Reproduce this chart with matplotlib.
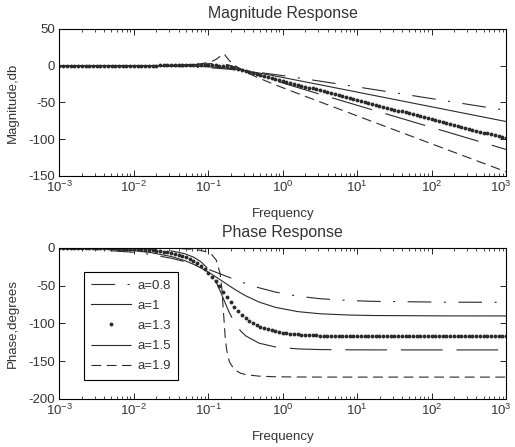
"""
Fractional-order low-pass response: magnitude and phase for several orders a.
Writes out.png (515 x 447).
"""

import numpy as np
import matplotlib
matplotlib.use("Agg")
import matplotlib.pyplot as plt
from matplotlib.transforms import ScaledTranslation

# ── Data ──────────────────────────────────────────────────────────────────────
ORDERS = ["a=0.8", "a=1", "a=1.3", "a=1.5", "a=1.9"]

# frequency points for the line curves
FREQ_LINES = [0.001, 0.0032, 0.01, 0.016, 0.032, 0.048, 0.064, 0.08, 0.096,
              0.112, 0.128, 0.144, 0.152, 0.16, 0.168, 0.176, 0.192, 0.224,
              0.272, 0.32, 0.48, 0.8, 1.6, 3.2, 8, 16, 160, 1000]

MAG_A08 = [-0.05, -0.12, -0.33, -0.50, -0.96, -1.40, -1.84, -2.27, -2.68, -3.08,
           -3.46, -3.83, -4.00, -4.18, -4.35, -4.52, -4.85, -5.47, -6.32, -7.08,
           -9.18, -12.14, -16.50, -21.09, -27.31, -32.07, -48.01, -60.75]
MAG_A10 = [0.0, 0.0, -0.02, -0.04, -0.17, -0.37, -0.65, -0.97, -1.34, -1.73,
           -2.15, -2.58, -2.79, -3.01, -3.23, -3.44, -3.87, -4.71, -5.90, -6.99,
           -10.0, -14.15, -20.04, -26.03, -33.98, -40.0, -60.0, -75.92]
MAG_A15 = [0.0, 0.02, 0.10, 0.19, 0.55, 1.00, 1.51, 2.04, 2.53, 2.89,
           3.01, 2.83, 2.61, 2.32, 1.97, 1.55, 0.61, -1.47, -4.44, -6.99,
           -13.15, -20.42, -29.81, -38.96, -50.95, -59.99, -90.0, -113.88]
MAG_A19 = [0.0, 0.01, 0.04, 0.11, 0.41, 0.92, 1.65, 2.66, 4.03, 5.94,
           8.68, 12.76, 15.09, 16.09, 14.38, 11.62, 6.86, 0.72, -4.91, -8.78,
           -17.0, -26.15, -37.89, -49.41, -64.56, -76.0, -114.0, -144.24]

PH_A08 = [-0.94, -2.35, -5.72, -8.18, -13.60, -17.99, -21.70, -24.89, -27.67, -30.12,
          -32.30, -34.25, -35.15, -36.0, -36.82, -37.59, -39.03, -41.55, -44.64, -47.12,
          -52.71, -58.41, -63.83, -67.19, -69.65, -70.64, -71.79, -71.95]
PH_A10 = [-0.36, -1.15, -3.58, -5.71, -11.31, -16.70, -21.80, -26.57, -30.96, -34.99,
          -38.66, -41.99, -43.53, -45.0, -46.40, -47.73, -50.19, -54.46, -59.53, -63.43,
          -71.57, -78.69, -84.29, -87.14, -88.85, -89.43, -89.94, -89.99]
PH_A15 = [-0.02, -0.12, -0.64, -1.31, -3.86, -7.49, -12.29, -18.43, -26.09, -35.25,
          -45.67, -56.72, -62.19, -67.5, -72.55, -77.28, -85.66, -98.33, -109.9, -116.57,
          -126.05, -131.14, -133.69, -134.54, -134.88, -134.96, -135.0, -135.0]
PH_A19 = [0.0, -0.01, -0.05, -0.11, -0.44, -1.01, -1.90, -3.26, -5.41, -9.05,
          -16.15, -33.74, -53.76, -85.5, -115.97, -134.44, -150.86, -161.23, -165.9, -167.74,
          -169.74, -170.56, -170.89, -170.97, -171.0, -171.0, -171.0, -171.0]

# a=1.3 is drawn as dots, 20 samples per decade from 1e-3 to 1e3
FREQ_DOTS = np.logspace(-3, 3, 121)
MAG_A13 = [
    0.01, 0.01, 0.01, 0.01, 0.01, 0.01, 0.01, 0.02, 0.02, 0.02,
    0.02, 0.03, 0.03, 0.04, 0.04, 0.05, 0.06, 0.07, 0.08, 0.09,
    0.11, 0.12, 0.14, 0.16, 0.19, 0.22, 0.25, 0.29, 0.33, 0.38,
    0.44, 0.50, 0.57, 0.64, 0.72, 0.80, 0.87, 0.94, 0.99, 1.00,
    0.96, 0.84, 0.60, 0.22, -0.33, -1.05, -1.95, -2.99, -4.15, -5.39,
    -6.70, -8.04, -9.41, -10.78, -12.16, -13.54, -14.92, -16.28, -17.65, -19.00,
    -20.35, -21.70, -23.04, -24.37, -25.70, -27.03, -28.35, -29.67, -30.99, -32.30,
    -33.61, -34.92, -36.23, -37.54, -38.85, -40.16, -41.46, -42.76, -44.07, -45.37,
    -46.68, -47.98, -49.28, -50.58, -51.88, -53.18, -54.48, -55.78, -57.08, -58.38,
    -59.69, -60.99, -62.29, -63.59, -64.89, -66.19, -67.49, -68.79, -70.09, -71.39,
    -72.69, -73.99, -75.29, -76.59, -77.89, -79.19, -80.49, -81.79, -83.09, -84.39,
    -85.69, -86.99, -88.29, -89.59, -90.89, -92.19, -93.49, -94.79, -96.09, -97.39,
    -98.69,
]
PH_A13 = [
    -0.07, -0.08, -0.09, -0.11, -0.13, -0.15, -0.17, -0.20, -0.23, -0.27,
    -0.31, -0.36, -0.42, -0.49, -0.57, -0.66, -0.77, -0.89, -1.04, -1.21,
    -1.41, -1.64, -1.91, -2.22, -2.58, -3.01, -3.51, -4.10, -4.79, -5.59,
    -6.54, -7.66, -8.97, -10.52, -12.36, -14.53, -17.09, -20.12, -23.68, -27.86,
    -32.70, -38.21, -44.35, -51.00, -57.91, -64.88, -71.59, -77.82, -83.44, -88.39,
    -92.67, -96.33, -99.44, -102.08, -104.31, -106.20, -107.79, -109.15, -110.29, -111.27,
    -112.09, -112.80, -113.40, -113.91, -114.35, -114.73, -115.05, -115.32, -115.56, -115.76,
    -115.93, -116.08, -116.21, -116.32, -116.42, -116.50, -116.57, -116.63, -116.68, -116.73,
    -116.76, -116.80, -116.82, -116.85, -116.87, -116.89, -116.90, -116.92, -116.93, -116.94,
    -116.95, -116.96, -116.96, -116.97, -116.97, -116.98, -116.98, -116.98, -116.99, -116.99,
    -117.0, -117.0, -117.0, -117.0, -117.0, -117.0, -117.0, -117.0, -117.0, -117.0,
    -117.0, -117.0, -117.0, -117.0, -117.0, -117.0, -117.0, -117.0, -117.0, -117.0,
    -117.0,
]

MAG_TICKS = [-150, -100, -50, 0, 50]
PH_TICKS = [-200, -150, -100, -50, 0]

# ── Style ─────────────────────────────────────────────────────────────────────
plt.rcParams["font.family"] = ["Liberation Sans", "DejaVu Sans"]
plt.rcParams["font.size"] = 9.5
plt.rcParams["mathtext.fontset"] = "custom"
plt.rcParams["mathtext.rm"] = "Liberation Sans"
plt.rcParams["axes.unicode_minus"] = False   # MATLAB uses a plain hyphen
plt.rcParams["lines.scale_dashes"] = False

INK = "#2a2a2a"
TXT = "#333333"
STYLES = {
    "a=0.8": (0, (17, 9, 1.5, 9)),
    "a=1":   "-",
    "a=1.5": (0, (30, 10)),
    "a=1.9": (0, (7, 4)),
}


def style_axes(fig, ax, yticks):
    ax.set_xscale("log")
    ax.set_xlim(1e-3, 1e3)
    ax.set_ylim(yticks[0], yticks[-1])
    ax.set_yticks(yticks)
    ax.set_xticks([1e-3, 1e-2, 1e-1, 1e0, 1e1, 1e2, 1e3])
    ax.tick_params(which="both", direction="in", top=True, right=True,
                   colors="black", labelcolor=TXT)
    ax.tick_params(which="major", length=4, width=0.6, pad=3)
    ax.tick_params(which="minor", length=2, width=0.5)
    for spine in ax.spines.values():
        spine.set_linewidth(0.8)
        spine.set_edgecolor("black")
    # last decade label sits on the figure edge; nudge it inside a little
    last = ax.get_xticklabels()[-1]
    last.set_transform(last.get_transform()
                       + ScaledTranslation(-4 / 72, 0, fig.dpi_scale_trans))


def draw(ax, lines, dots):
    ax.plot(FREQ_LINES, lines[0], color=INK, lw=0.8, linestyle=STYLES["a=0.8"], label=ORDERS[0])
    ax.plot(FREQ_LINES, lines[1], color=INK, lw=0.8, linestyle=STYLES["a=1"], label=ORDERS[1])
    ax.plot(FREQ_DOTS, dots, color=INK, linestyle="none", marker="o",
            markersize=2.8, markeredgewidth=0, label=ORDERS[2])
    ax.plot(FREQ_LINES, lines[2], color=INK, lw=0.8, linestyle=STYLES["a=1.5"], label=ORDERS[3])
    ax.plot(FREQ_LINES, lines[3], color=INK, lw=0.8, linestyle=STYLES["a=1.9"], label=ORDERS[4])


fig = plt.figure(figsize=(5.15, 4.47), dpi=100)
fig.patch.set_facecolor("white")

ax1 = fig.add_axes([0.1155, 0.6063, 0.867, 0.329])
ax2 = fig.add_axes([0.1155, 0.1074, 0.867, 0.3378])

# ── Magnitude ─────────────────────────────────────────────────────────────────
draw(ax1, [MAG_A08, MAG_A10, MAG_A15, MAG_A19], MAG_A13)
style_axes(fig, ax1, MAG_TICKS)
ax1.set_title("Magnitude Response", pad=8, color=TXT)
ax1.set_xlabel("Frequency", color=TXT, va="top")
ax1.set_ylabel("Magnitude,db", color=TXT)
ax1.xaxis.set_label_coords(0.5, -0.215)
ax1.yaxis.set_label_coords(-0.092, 0.5)

# ── Phase ─────────────────────────────────────────────────────────────────────
draw(ax2, [PH_A08, PH_A10, PH_A15, PH_A19], PH_A13)
style_axes(fig, ax2, PH_TICKS)
ax2.set_title("Phase Response", pad=8, color=TXT)
ax2.set_xlabel("Frequency", color=TXT, va="top")
ax2.set_ylabel("Phase,degrees", color=TXT)
ax2.xaxis.set_label_coords(0.5, -0.21)
ax2.yaxis.set_label_coords(-0.092, 0.5)

leg = ax2.legend(loc="lower left", bbox_to_anchor=(0.055, 0.128), borderaxespad=0,
                 numpoints=1, handlelength=3.0, handletextpad=0.5, labelspacing=0.6,
                 borderpad=0.55, fancybox=False, framealpha=1, edgecolor="black",
                 labelcolor=TXT)
leg.get_frame().set_linewidth(0.8)

fig.savefig("out.png", dpi=100, facecolor="white")
